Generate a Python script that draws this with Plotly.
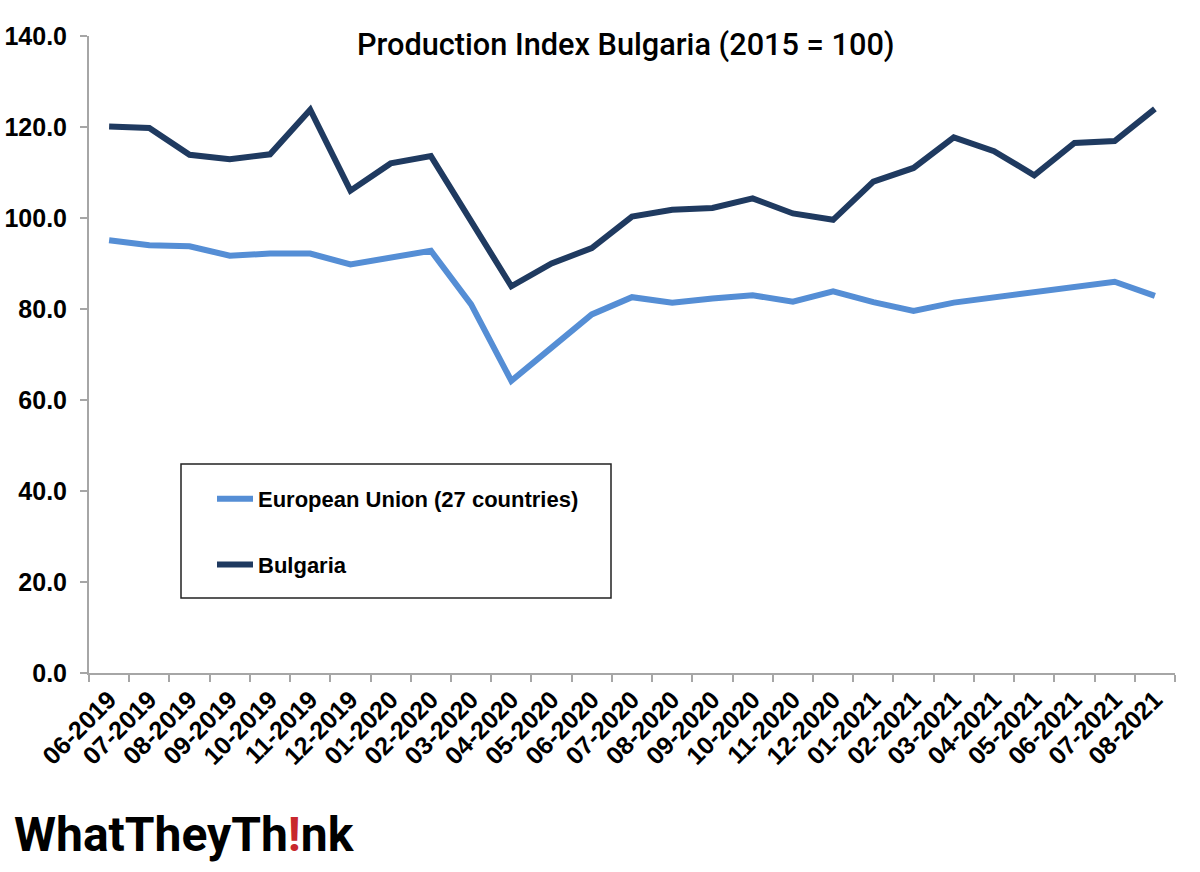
import plotly.graph_objects as go

months = ["06-2019","07-2019","08-2019","09-2019","10-2019","11-2019","12-2019","01-2020","02-2020",
          "03-2020","04-2020","05-2020","06-2020","07-2020","08-2020","09-2020","10-2020","11-2020",
          "12-2020","01-2021","02-2021","03-2021","04-2021","05-2021","06-2021","07-2021","08-2021"]
eu = [95.1,94.0,93.8,91.7,92.2,92.2,89.8,91.4,92.8,81.0,64.2,71.5,78.8,82.6,81.4,82.3,83.0,81.6,
      83.9,81.5,79.6,81.4,82.5,83.6,85.0,86.0,82.9]
bulgaria = [120.1,119.8,113.9,112.9,114.0,123.8,106.0,112.0,113.6,99.5,85.0,90.0,93.4,100.3,101.8,
            102.2,104.3,101.0,99.6,108.0,111.0,117.7,114.7,109.4,116.5,116.9,124.0]
y_ticks = [0,20,40,60,80,100,120,140]

W, H = 1200, 872
fig = go.Figure()
fig.add_trace(go.Scatter(x=months, y=eu, mode='lines', name='European Union (27 countries)',
                         legendgroup='eu', line=dict(color='#558ED5', width=6, shape='linear')))
fig.add_trace(go.Scatter(x=months, y=bulgaria, mode='lines', name='Bulgaria',
                         legendgroup='bg', line=dict(color='#1F3A60', width=6, shape='linear')))

fig.update_layout(
    width=W, height=H,
    margin=dict(l=89, r=25, t=36, b=199, autoexpand=False),
    paper_bgcolor='white', plot_bgcolor='white',
    font=dict(family='Liberation Sans', color='black'),
    showlegend=True,
    legend=dict(x=(212-89)/1086, y=(673-478)/637, xanchor='left', yanchor='top',
                bgcolor='rgba(0,0,0,0)', itemwidth=36, tracegroupgap=34,
                font=dict(family='Liberation Sans', size=22, color='black', weight='bold')),
)
fig.update_xaxes(type='category', categoryorder='array', categoryarray=months, range=[-0.5, 26.5],
                 tickson='boundaries', ticks='outside', ticklen=7, tickwidth=2, tickcolor='#A6A6A6',
                 showline=True, linecolor='#A6A6A6', linewidth=2, showgrid=False, tickangle=-45,
                 tickfont=dict(family='Liberation Sans', size=25, color='black', weight='bold'))
fig.update_yaxes(range=[0, 140], tickmode='array', tickvals=y_ticks,
                 ticktext=[f'{v:.1f}' for v in y_ticks],
                 ticks='outside', ticklen=7, tickwidth=2, tickcolor='#A6A6A6', ticklabelstandoff=8,
                 showline=True, linecolor='#A6A6A6', linewidth=2, showgrid=False, zeroline=False,
                 tickfont=dict(family='Liberation Sans', size=25, color='black', weight='bold'))

# legend frame
fig.add_shape(type='rect', xref='paper', yref='paper', x0=(181-89)/1086, x1=(611-89)/1086,
              y0=(673-598)/637, y1=(673-464)/637, line=dict(color='#222222', width=1.5),
              fillcolor='rgba(0,0,0,0)')

fig.add_annotation(xref='paper', yref='paper', x=(626-89)/1086, y=(673-45)/637, showarrow=False,
                   text='Production Index Bulgaria (2015 = 100)', xanchor='center', yanchor='middle',
                   font=dict(family='Roboto', size=30.7, color='black', weight=500))

# logo
fig.add_annotation(xref='paper', yref='paper', x=(12-89)/1086, y=(673-834)/637, showarrow=False,
                   text="<b>WhatTheyTh<span style='color:#C8282D'>!</span>nk</b>",
                   xanchor='left', yanchor='middle',
                   font=dict(family='Roboto', size=48, color='black'))

fig.write_html("out.html", config=dict(displayModeBar=False),
               post_script="document.body.style.margin='0';")
